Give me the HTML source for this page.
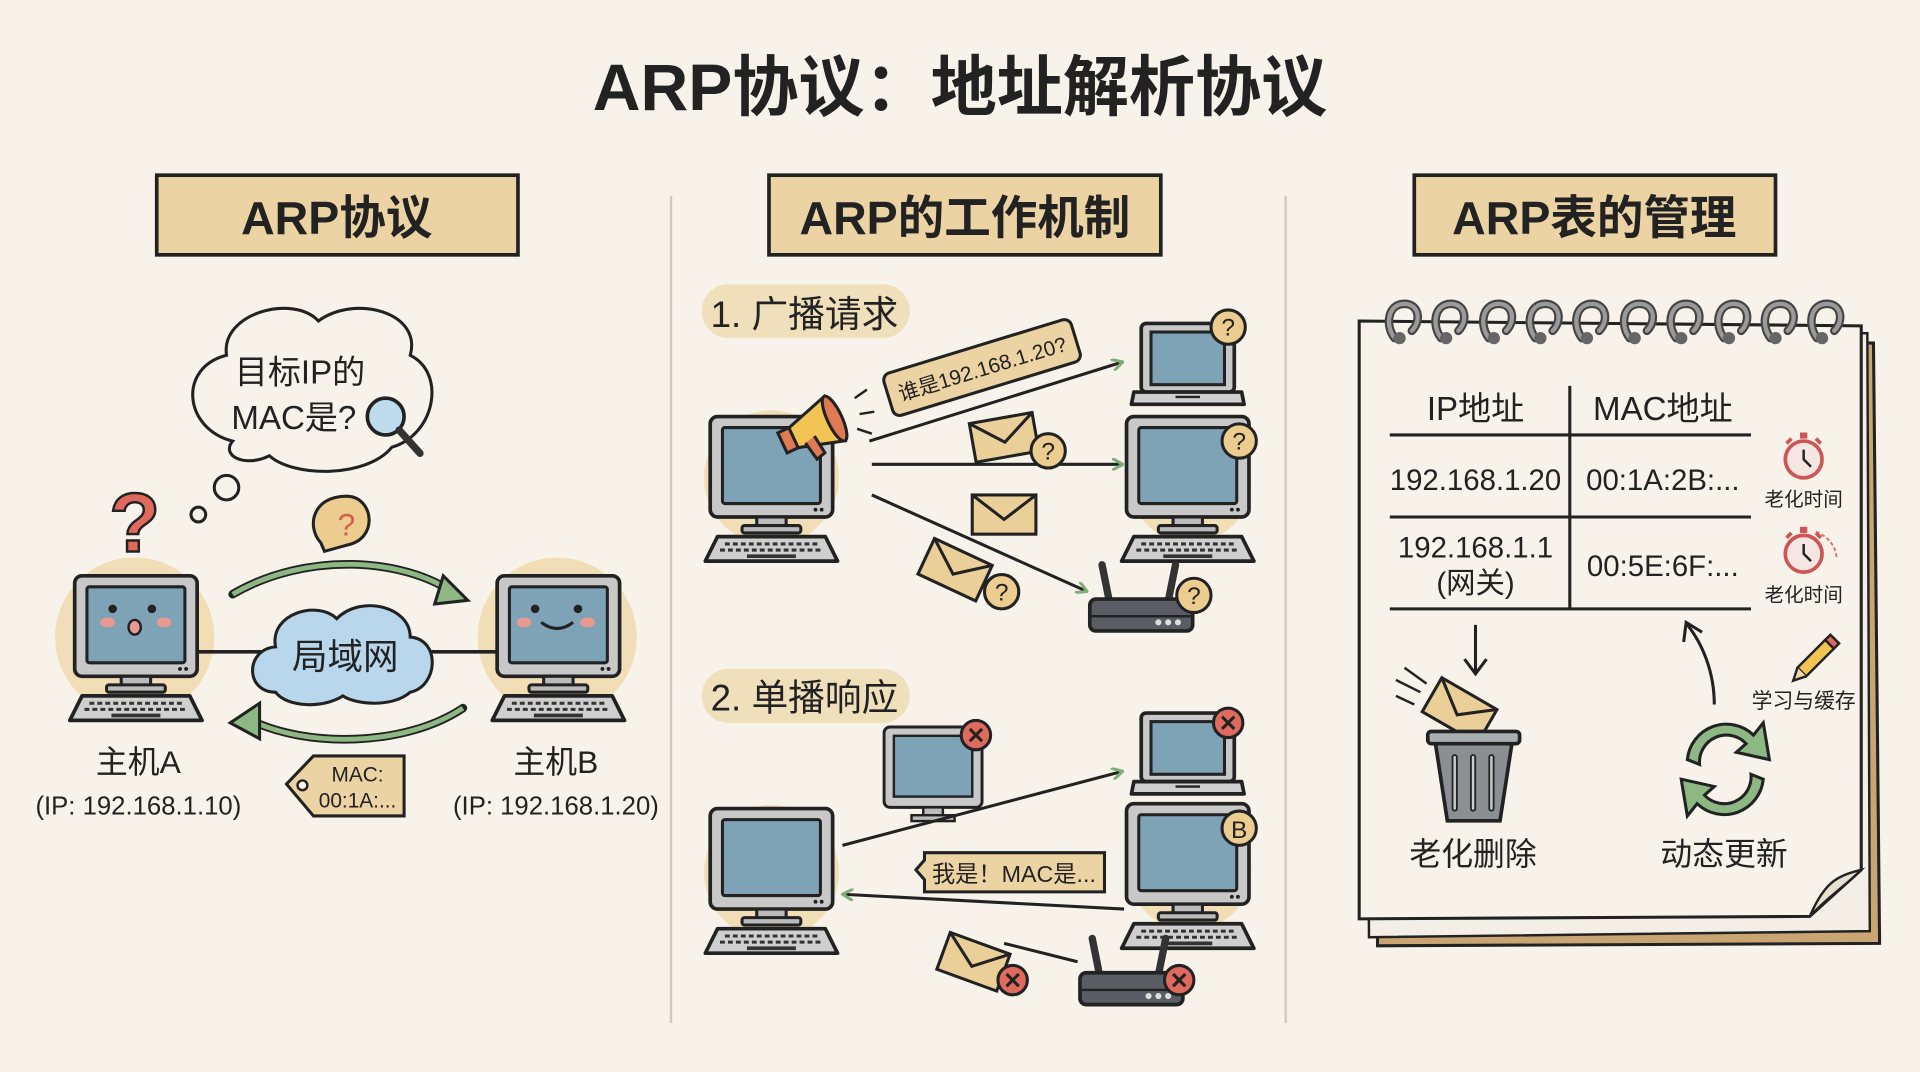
<!DOCTYPE html>
<html><head><meta charset="utf-8"><style>
html,body{margin:0;padding:0;background:#f7f3ea;}
svg{display:block}
text{font-family:"Liberation Sans","Noto Sans CJK SC",sans-serif;fill:#222;text-anchor:middle}
</style></head><body>
<svg width="1920" height="1072" viewBox="0 0 1568 875" preserveAspectRatio="none" xmlns="http://www.w3.org/2000/svg">
<defs>
<g id="desk">
 <rect x="-50" y="-52" width="100" height="82" rx="6" fill="#c8c8c8" stroke="#222" stroke-width="3"/>
 <rect x="-40" y="-43" width="80" height="62" rx="2" fill="#7fa3b6" stroke="#222" stroke-width="2.5"/>
 <circle cx="36" cy="24" r="1.6" fill="#222"/><circle cx="41" cy="24" r="1.6" fill="#222"/>
 <rect x="-12" y="30" width="24" height="8" fill="#bbb" stroke="#222" stroke-width="2.5"/>
 <rect x="-24" y="37" width="48" height="6" rx="2" fill="#bbb" stroke="#222" stroke-width="2.5"/>
 <path d="M-44 46 L44 46 L54 66 L-54 66 Z" fill="#cfcfcf" stroke="#222" stroke-width="3" stroke-linejoin="round"/>
 <path d="M-38 52 H38 M-42 57 H42" stroke="#333" stroke-width="2.5" stroke-dasharray="4 2.5"/>
 <path d="M-20 62 H20" stroke="#333" stroke-width="3"/>
</g>
<g id="laptop">
 <rect x="-38" y="-36" width="76" height="56" rx="4" fill="#c8c8c8" stroke="#222" stroke-width="3"/>
 <rect x="-30" y="-29" width="60" height="43" fill="#7fa3b6" stroke="#222" stroke-width="2.5"/>
 <path d="M-44 20 H44 L46 30 H-46 Z" fill="#cfcfcf" stroke="#222" stroke-width="3" stroke-linejoin="round"/>
 <path d="M-10 24 H10" stroke="#222" stroke-width="2"/>
</g>
<g id="router">
 <path d="M-26 -4 L-32 -34 M22 -4 L28 -34" stroke="#333" stroke-width="6" stroke-linecap="round"/>
 <rect x="-42" y="-6" width="84" height="26" rx="5" fill="#5a5d63" stroke="#222" stroke-width="3"/>
 <path d="M-42 8 H42" stroke="#222" stroke-width="2"/>
 <circle cx="14" cy="13" r="2.5" fill="#ddd"/><circle cx="22" cy="13" r="2.5" fill="#ddd"/><circle cx="30" cy="13" r="2.5" fill="#ddd"/>
</g>
<g id="env">
 <rect x="-26" y="-16" width="52" height="32" fill="#ebcf98" stroke="#222" stroke-width="2.5"/>
 <path d="M-26 -16 L0 4 L26 -16" fill="none" stroke="#222" stroke-width="2.5"/>
</g>
<g id="qb"><circle r="14" fill="#eccd8f" stroke="#222" stroke-width="2.5"/><text y="7" font-size="20">?</text></g>
<g id="xb"><circle r="12" fill="#df6a5e" stroke="#222" stroke-width="2.5"/><path d="M-5 -5 L5 5 M5 -5 L-5 5" stroke="#222" stroke-width="2.5"/></g>
<marker id="ga" markerWidth="10" markerHeight="10" refX="7" refY="5" orient="auto" markerUnits="userSpaceOnUse"><path d="M0 0 L9 5 L0 10" fill="none" stroke="#7fae7a" stroke-width="2.5"/></marker>
<g id="ring"><path d="M-8 14 C-16 4 -14 -14 0 -14 C12 -14 14 0 6 8" fill="none" stroke="#444" stroke-width="7" stroke-linecap="round"/><path d="M-8 14 C-16 4 -14 -14 0 -14 C12 -14 14 0 6 8" fill="none" stroke="#9a9a9a" stroke-width="3.5" stroke-linecap="round"/><circle cx="-4" cy="14" r="5" fill="#666"/></g>
<g id="clock"><path d="M-10 -17 L-14 -13 M10 -17 L14 -13" stroke="#c55" stroke-width="3"/><rect x="-3" y="-22" width="6" height="5" fill="#c55"/><circle r="15" fill="#f6e6e2" stroke="#c55" stroke-width="3"/><path d="M0 -8 V0 L6 6" fill="none" stroke="#222" stroke-width="2"/></g>
</defs>

<text x="784" y="90" font-size="54" font-weight="bold">ARP协议：地址解析协议</text>

<rect x="128" y="143" width="295" height="65" fill="#ecd3a3" stroke="#222" stroke-width="3"/>
<text x="275" y="191" font-size="38" font-weight="bold">ARP协议</text>
<rect x="628" y="143" width="320" height="65" fill="#ecd3a3" stroke="#222" stroke-width="3"/>
<text x="788" y="191" font-size="38" font-weight="bold">ARP的工作机制</text>
<rect x="1155" y="143" width="295" height="65" fill="#ecd3a3" stroke="#222" stroke-width="3"/>
<text x="1302" y="191" font-size="38" font-weight="bold">ARP表的管理</text>

<path d="M548 160 V835 M1050 160 V835" stroke="#cfcbc2" stroke-width="2"/>

<!-- Panel 1 -->
<path d="M190 360 C150 350 145 300 185 290 C180 255 240 240 260 262 C290 240 345 255 335 290 C365 305 355 355 320 365 C300 390 240 390 220 372 C200 382 180 372 190 360 Z" fill="#f7f3ea" stroke="#222" stroke-width="2.5"/>
<text x="245" y="313" font-size="27">目标IP的</text>
<text x="240" y="350" font-size="27">MAC是?</text>
<circle cx="315" cy="340" r="15" fill="#bfdcef" stroke="#222" stroke-width="3"/>
<path d="M326 351 L343 370" stroke="#333" stroke-width="6" stroke-linecap="round"/>
<circle cx="185" cy="398" r="10" fill="none" stroke="#222" stroke-width="2.5"/>
<circle cx="162" cy="420" r="6" fill="none" stroke="#222" stroke-width="2.5"/>
<text x="110" y="450" font-size="68" font-weight="bold" style="fill:#e0695e;stroke:#222;stroke-width:2">?</text>
<path d="M262 443 C250 430 255 405 283 405 C305 405 310 440 283 445 L265 450 Z" fill="#eccd8f" stroke="#222" stroke-width="2.5"/>
<text x="283" y="437" font-size="26" style="fill:#d2614f">?</text>
<circle cx="110" cy="520" r="65" fill="#f1ddb6"/>
<circle cx="455" cy="520" r="65" fill="#f1ddb6"/>
<path d="M160 532 H410" stroke="#222" stroke-width="3"/>
<use href="#desk" x="111" y="522"/>
<use href="#desk" x="456" y="522"/>
<circle cx="92" cy="497" r="3.5" fill="#222"/><circle cx="124" cy="497" r="3.5" fill="#222"/>
<ellipse cx="88" cy="508" rx="6" ry="4" fill="#e89a90"/><ellipse cx="134" cy="508" rx="6" ry="4" fill="#e89a90"/>
<ellipse cx="110" cy="512" rx="5" ry="6" fill="#e89a90" stroke="#222" stroke-width="2"/>
<circle cx="437" cy="497" r="3.5" fill="#222"/><circle cx="472" cy="497" r="3.5" fill="#222"/>
<ellipse cx="428" cy="508" rx="6" ry="4" fill="#e89a90"/><ellipse cx="480" cy="508" rx="6" ry="4" fill="#e89a90"/>
<path d="M442 508 Q455 518 468 508" fill="none" stroke="#222" stroke-width="2.5"/>
<path d="M225 565 C200 565 200 530 225 528 C220 500 260 490 275 505 C295 485 335 495 335 520 C360 522 358 560 335 565 C320 578 290 575 280 568 C265 578 235 578 225 565 Z" fill="#b9d7ec" stroke="#222" stroke-width="2.5"/>
<text x="282" y="546" font-size="29">局域网</text>
<path d="M190 485 C250 450 330 455 372 485" fill="none" stroke="#222" stroke-width="7" stroke-linecap="round"/>
<path d="M190 485 C250 450 330 455 372 485" fill="none" stroke="#8db883" stroke-width="4"/>
<path d="M362 470 L382 490 L355 493 Z" fill="#8db883" stroke="#222" stroke-width="2.5"/>
<path d="M378 578 C330 610 250 610 205 588" fill="none" stroke="#222" stroke-width="7" stroke-linecap="round"/>
<path d="M378 578 C330 610 250 610 205 588" fill="none" stroke="#8db883" stroke-width="4"/>
<path d="M212 574 L188 590 L212 603 Z" fill="#8db883" stroke="#222" stroke-width="2.5"/>
<text x="113" y="631" font-size="26">主机A</text>
<text x="113" y="665" font-size="21">(IP: 192.168.1.10)</text>
<text x="454" y="631" font-size="26">主机B</text>
<text x="454" y="665" font-size="21">(IP: 192.168.1.20)</text>
<path d="M234 640 L256 617 H330 V666 H256 Z" fill="#ecd3a3" stroke="#222" stroke-width="2.5"/>
<circle cx="247" cy="641" r="4" fill="#f7f3ea" stroke="#222" stroke-width="2"/>
<text x="292" y="638" font-size="17">MAC:</text>
<text x="292" y="659" font-size="17">00:1A:...</text>

<!-- Panel 2 -->
<rect x="573" y="232" width="170" height="44" rx="22" fill="#f0dfbb"/>
<text x="657" y="267" font-size="30">1. 广播请求</text>
<circle cx="630" cy="390" r="55" fill="#f1ddb6"/>
<use href="#desk" x="630" y="392"/>
<g transform="translate(668,348) rotate(-25)">
 <path d="M-25 -8 L15 -20 L15 20 L-25 8 Z" fill="#f2c453" stroke="#222" stroke-width="2.5"/>
 <rect x="-32" y="-9" width="10" height="18" fill="#e07a55" stroke="#222" stroke-width="2.5"/>
 <ellipse cx="15" cy="0" rx="6" ry="20" fill="#e07a55" stroke="#222" stroke-width="2.5"/>
 <path d="M-15 8 L-12 24 L-4 22 L-6 6" fill="#e07a55" stroke="#222" stroke-width="2.5"/>
</g>
<path d="M698 325 L708 318 M702 338 L714 336 M700 350 L712 354" stroke="#222" stroke-width="2"/>
<g transform="translate(802,300) rotate(-17)">
 <rect x="-80" y="-18" width="160" height="36" rx="6" fill="#ecd3a3" stroke="#222" stroke-width="2.5"/>
 <text x="0" y="7" font-size="17">谁是192.168.1.20?</text>
</g>
<path d="M710 360 L915 296" stroke="#222" stroke-width="2.5" marker-end="url(#ga)"/>
<path d="M712 379 L915 379" stroke="#222" stroke-width="2.5" marker-end="url(#ga)"/>
<path d="M712 404 L886 482" stroke="#222" stroke-width="2.5" marker-end="url(#ga)"/>
<use href="#laptop" x="970" y="300"/><use href="#qb" x="1003" y="267"/>
<circle cx="972" cy="393" r="50" fill="#f1ddb6"/>
<use href="#desk" x="970" y="392"/><use href="#qb" x="1012" y="360"/>
<use href="#router" x="932" y="495"/><use href="#qb" x="975" y="486"/>
<g transform="translate(820,357) rotate(-10)"><use href="#env"/></g><use href="#qb" x="856" y="368"/>
<use href="#env" x="820" y="420"/>
<g transform="translate(780,465) rotate(25)"><use href="#env"/></g><use href="#qb" x="818" y="483"/>

<rect x="573" y="546" width="170" height="44" rx="22" fill="#f0dfbb"/>
<text x="657" y="580" font-size="30">2. 单播响应</text>
<g transform="translate(762,635) scale(0.8)"><rect x="-50" y="-52" width="100" height="82" rx="6" fill="#c8c8c8" stroke="#222" stroke-width="3"/><rect x="-40" y="-43" width="80" height="62" fill="#7fa3b6" stroke="#222" stroke-width="2.5"/><rect x="-10" y="30" width="20" height="10" fill="#bbb" stroke="#222" stroke-width="2.5"/><rect x="-22" y="38" width="44" height="6" fill="#bbb" stroke="#222" stroke-width="2.5"/></g>
<use href="#xb" x="797" y="600"/>
<use href="#laptop" x="970" y="618"/><use href="#xb" x="1003" y="590"/>
<circle cx="972" cy="710" r="50" fill="#f1ddb6"/>
<use href="#desk" x="970" y="708"/>
<g><circle cx="1012" cy="676" r="14" fill="#eccd8f" stroke="#222" stroke-width="2.5"/><text x="1012" y="684" font-size="20">B</text></g>
<use href="#router" x="924" y="800"/><use href="#xb" x="963" y="800"/>
<circle cx="630" cy="712" r="55" fill="#f1ddb6"/>
<use href="#desk" x="630" y="712"/>
<path d="M688 690 L915 630" stroke="#222" stroke-width="2.5" marker-end="url(#ga)"/>
<path d="M918 742 L690 730" stroke="#222" stroke-width="2.5" marker-end="url(#ga)"/>
<path d="M880 785 L820 770" stroke="#222" stroke-width="2.5"/>
<path d="M748 710 L755 702 V696 H902 V728 H755 V718 Z" fill="#ecd3a3" stroke="#222" stroke-width="2.5"/>
<text x="828" y="720" font-size="19">我是！MAC是...</text>
<g transform="translate(795,785) rotate(20)"><use href="#env"/></g><use href="#xb" x="827" y="800"/>

<!-- Panel 3 notebook -->
<path d="M1120 275 L1530 280 L1535 770 L1125 772 Z" fill="#c9a574" stroke="#222" stroke-width="2.5"/>
<path d="M1115 268 L1525 272 L1527 760 L1118 765 Z" fill="#f3efe6" stroke="#222" stroke-width="2"/>
<path d="M1110 262 L1520 266 L1520 710 L1478 748 L1110 750 Z" fill="#f7f3ea" stroke="#222" stroke-width="2.5"/>
<path d="M1520 710 C1500 715 1490 720 1478 748 C1495 730 1505 725 1520 710 Z" fill="#e8e0cf" stroke="#222" stroke-width="2"/>
<use href="#ring" x="1147" y="262"/><use href="#ring" x="1185" y="262"/><use href="#ring" x="1224" y="262"/><use href="#ring" x="1262" y="262"/><use href="#ring" x="1300" y="262"/><use href="#ring" x="1339" y="262"/><use href="#ring" x="1377" y="262"/><use href="#ring" x="1416" y="262"/><use href="#ring" x="1454" y="262"/><use href="#ring" x="1492" y="262"/>
<text x="1205" y="343" font-size="27">IP地址</text>
<text x="1358" y="343" font-size="27">MAC地址</text>
<path d="M1282 315 V497 M1135 355 H1430 M1135 422 H1430 M1135 497 H1430" stroke="#222" stroke-width="2.5"/>
<text x="1205" y="400" font-size="24">192.168.1.20</text>
<text x="1358" y="400" font-size="24">00:1A:2B:...</text>
<text x="1205" y="455" font-size="24">192.168.1.1</text>
<text x="1205" y="484" font-size="24">(网关)</text>
<text x="1358" y="470" font-size="24">00:5E:6F:...</text>
<use href="#clock" x="1473" y="375"/><text x="1473" y="413" font-size="16">老化时间</text>
<use href="#clock" x="1473" y="452"/><text x="1473" y="491" font-size="16">老化时间</text>
<path d="M1483 434 Q1498 440 1500 455" fill="none" stroke="#e0695e" stroke-width="1.5" stroke-dasharray="3 2"/>
<path d="M1205 510 V548 M1196 538 L1205 550 L1214 538" fill="none" stroke="#222" stroke-width="2.5"/>
<path d="M1400 575 C1400 548 1390 525 1378 510 M1375 524 L1377 508 L1390 516" fill="none" stroke="#222" stroke-width="2.5"/>
<g transform="translate(1480,540) rotate(45)"><rect x="-5" y="-20" width="10" height="32" fill="#f2c453" stroke="#222" stroke-width="2"/><path d="M-5 12 L0 22 L5 12" fill="#f0d9a8" stroke="#222" stroke-width="2"/><rect x="-5" y="-26" width="10" height="6" fill="#e0695e" stroke="#222" stroke-width="2"/></g>
<text x="1473" y="578" font-size="17">学习与缓存</text>
<path d="M1140 555 L1160 565 M1147 545 L1165 558 M1140 568 L1155 575" stroke="#222" stroke-width="2"/>
<g transform="translate(1192,580) rotate(30)"><use href="#env"/></g>
<path d="M1172 605 L1235 605 L1225 670 L1182 670 Z" fill="#8b8e93" stroke="#222" stroke-width="3"/>
<rect x="1166" y="597" width="75" height="10" rx="3" fill="#a9acb0" stroke="#222" stroke-width="3"/>
<path d="M1188 618 V660 M1203 618 V660 M1218 618 V660" stroke="#222" stroke-width="5" stroke-linecap="round"/>
<path d="M1188 618 V660 M1203 618 V660 M1218 618 V660" stroke="#ccc" stroke-width="2" stroke-linecap="round"/>
<path d="M1378 620 A32 32 0 0 1 1432 600 L1440 590 L1445 620 L1418 614 L1426 607 A22 22 0 0 0 1388 624 Z" fill="#8db883" stroke="#222" stroke-width="2.5"/>
<path d="M1440 636 A32 32 0 0 1 1386 656 L1378 666 L1373 636 L1400 642 L1392 649 A22 22 0 0 0 1430 632 Z" fill="#8db883" stroke="#222" stroke-width="2.5"/>
<text x="1203" y="706" font-size="26">老化删除</text>
<text x="1408" y="706" font-size="26">动态更新</text>
</svg>
</body></html>
